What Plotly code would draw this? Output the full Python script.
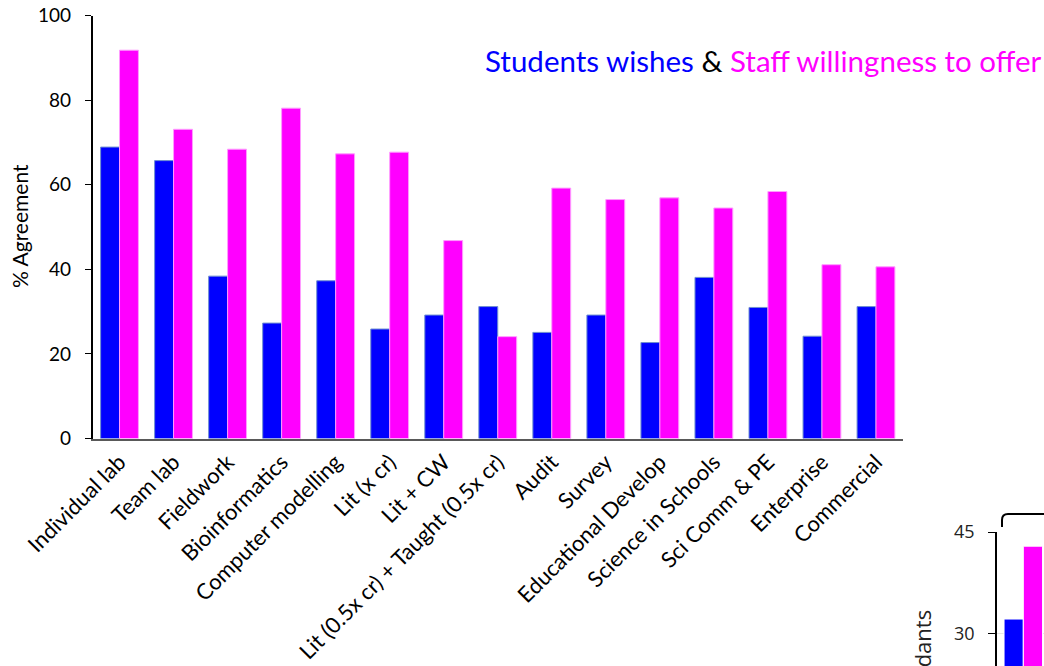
import plotly.graph_objects as go

W, H = 1044, 666

categories = ["Individual lab", "Team lab", "Fieldwork", "Bioinformatics",
              "Computer modelling", "Lit (x cr)", "Lit + CW",
              "Lit (0.5x cr) + Taught (0.5x cr)", "Audit", "Survey",
              "Educational Develop", "Science in Schools", "Sci Comm & PE",
              "Enterprise", "Commercial"]
students = [68.9, 65.7, 38.4, 27.3, 37.3, 25.9, 29.2, 31.2, 25.1, 29.2,
            22.7, 38.1, 31.0, 24.2, 31.2]
staff = [91.8, 73.1, 68.4, 78.1, 67.3, 67.7, 46.8, 24.1, 59.2, 56.5,
         56.9, 54.5, 58.4, 41.1, 40.6]
y_ticks = [0, 20, 40, 60, 80, 100]

# partial second chart (cut off at the bottom right)
cat2 = ["Respondants"]
students2 = [32.1]
staff2 = [42.9]
y2_ticks = [30, 45]

BLUE = "#0000FF"
PINK = "#FF00FF"
FONT = "Lato"


def px(x):
    return x / W


def py(y):
    return 1 - y / H


fig = go.Figure()
fig.add_trace(go.Bar(x=categories, y=students, marker=dict(color=BLUE, line=dict(color="#7090d0", width=1)),
                     xaxis="x", yaxis="y", name="Students"))
fig.add_trace(go.Bar(x=categories, y=staff, marker=dict(color=PINK, line=dict(color="#ff9cff", width=1)),
                     xaxis="x", yaxis="y", name="Staff"))
fig.add_trace(go.Bar(x=cat2, y=students2, marker=dict(color=BLUE, line=dict(color="white", width=1)),
                     xaxis="x2", yaxis="y2", name="Students2"))
fig.add_trace(go.Bar(x=cat2, y=staff2, marker=dict(color=PINK, line=dict(color="white", width=1)),
                     xaxis="x2", yaxis="y2", name="Staff2"))

fig.update_layout(
    width=W, height=H,
    margin=dict(l=0, r=0, t=0, b=0, autoexpand=False),
    paper_bgcolor="white", plot_bgcolor="white",
    showlegend=False,
    barmode="group", bargap=0.3, bargroupgap=0,
    font=dict(family=FONT, color="black"),
    xaxis=dict(domain=[px(92.5), px(903)], anchor="y", type="category",
               automargin=False,
               showline=True, linecolor="#595959", linewidth=2,
               ticks="", tickangle=-45, showgrid=False,
               tickfont=dict(family=FONT, size=22, color="black")),
    yaxis=dict(domain=[py(438.6), py(15.5)], anchor="x", range=[0, 100],
               automargin=False,
               tickvals=y_ticks, showline=True, linecolor="black", linewidth=1.5,
               ticks="outside", ticklen=6, tickcolor="black", showgrid=False,
               zeroline=False,
               tickfont=dict(family=FONT, size=19, color="black"),
               ticklabelstandoff=10),
    xaxis2=dict(domain=[px(997), 1], anchor="y2", type="category",
                automargin=False,
                range=[-0.478, 0.376], showticklabels=False, ticks="",
                showline=False, showgrid=False, zeroline=False),
    yaxis2=dict(domain=[0, py(532)], anchor="x2", range=[25.14, 45],
                automargin=False,
                tickvals=y2_ticks, showline=True, linecolor="black", linewidth=1.5,
                ticks="outside", ticklen=7, tickcolor="black",
                showgrid=True, gridcolor="#e6e6e6", zeroline=False,
                ticklabelstandoff=10,
                tickfont=dict(family="Open Sans", size=18, color="#222222")),
)

# y-axis title of the main chart
fig.add_annotation(
    xref="paper", yref="paper", x=px(19), y=py(226), xanchor="center", yanchor="middle",
    showarrow=False, textangle=-90, text="% Agreement",
    font=dict(family=FONT, size=21, color="black"),
)

fig.add_annotation(
    xref="paper", yref="paper", x=px(1043), y=py(61), xanchor="right", yanchor="middle",
    showarrow=False,
    text=f"<span style='color:{BLUE}'>Students wishes</span> &amp; "
         f"<span style='color:{PINK}'>Staff willingness to offer</span>",
    font=dict(family=FONT, size=29.5, color="black"),
)

fig.add_annotation(
    xref="paper", yref="paper", x=px(921.5), y=py(608), xanchor="center", yanchor="top",
    showarrow=False, textangle=-90,
    text="No. of respondants",
    font=dict(family="Open Sans", size=22, color="#222222"),
)

# bracket above the second chart
fig.add_shape(
    type="path", xref="paper", yref="paper",
    path=(f"M {px(1002)},{py(527)} L {px(1002)},{py(520)} "
          f"Q {px(1002)},{py(514)} {px(1008)},{py(514)} L {px(1044)},{py(514)}"),
    line=dict(color="black", width=2),
)

fig.write_html("out.html")
